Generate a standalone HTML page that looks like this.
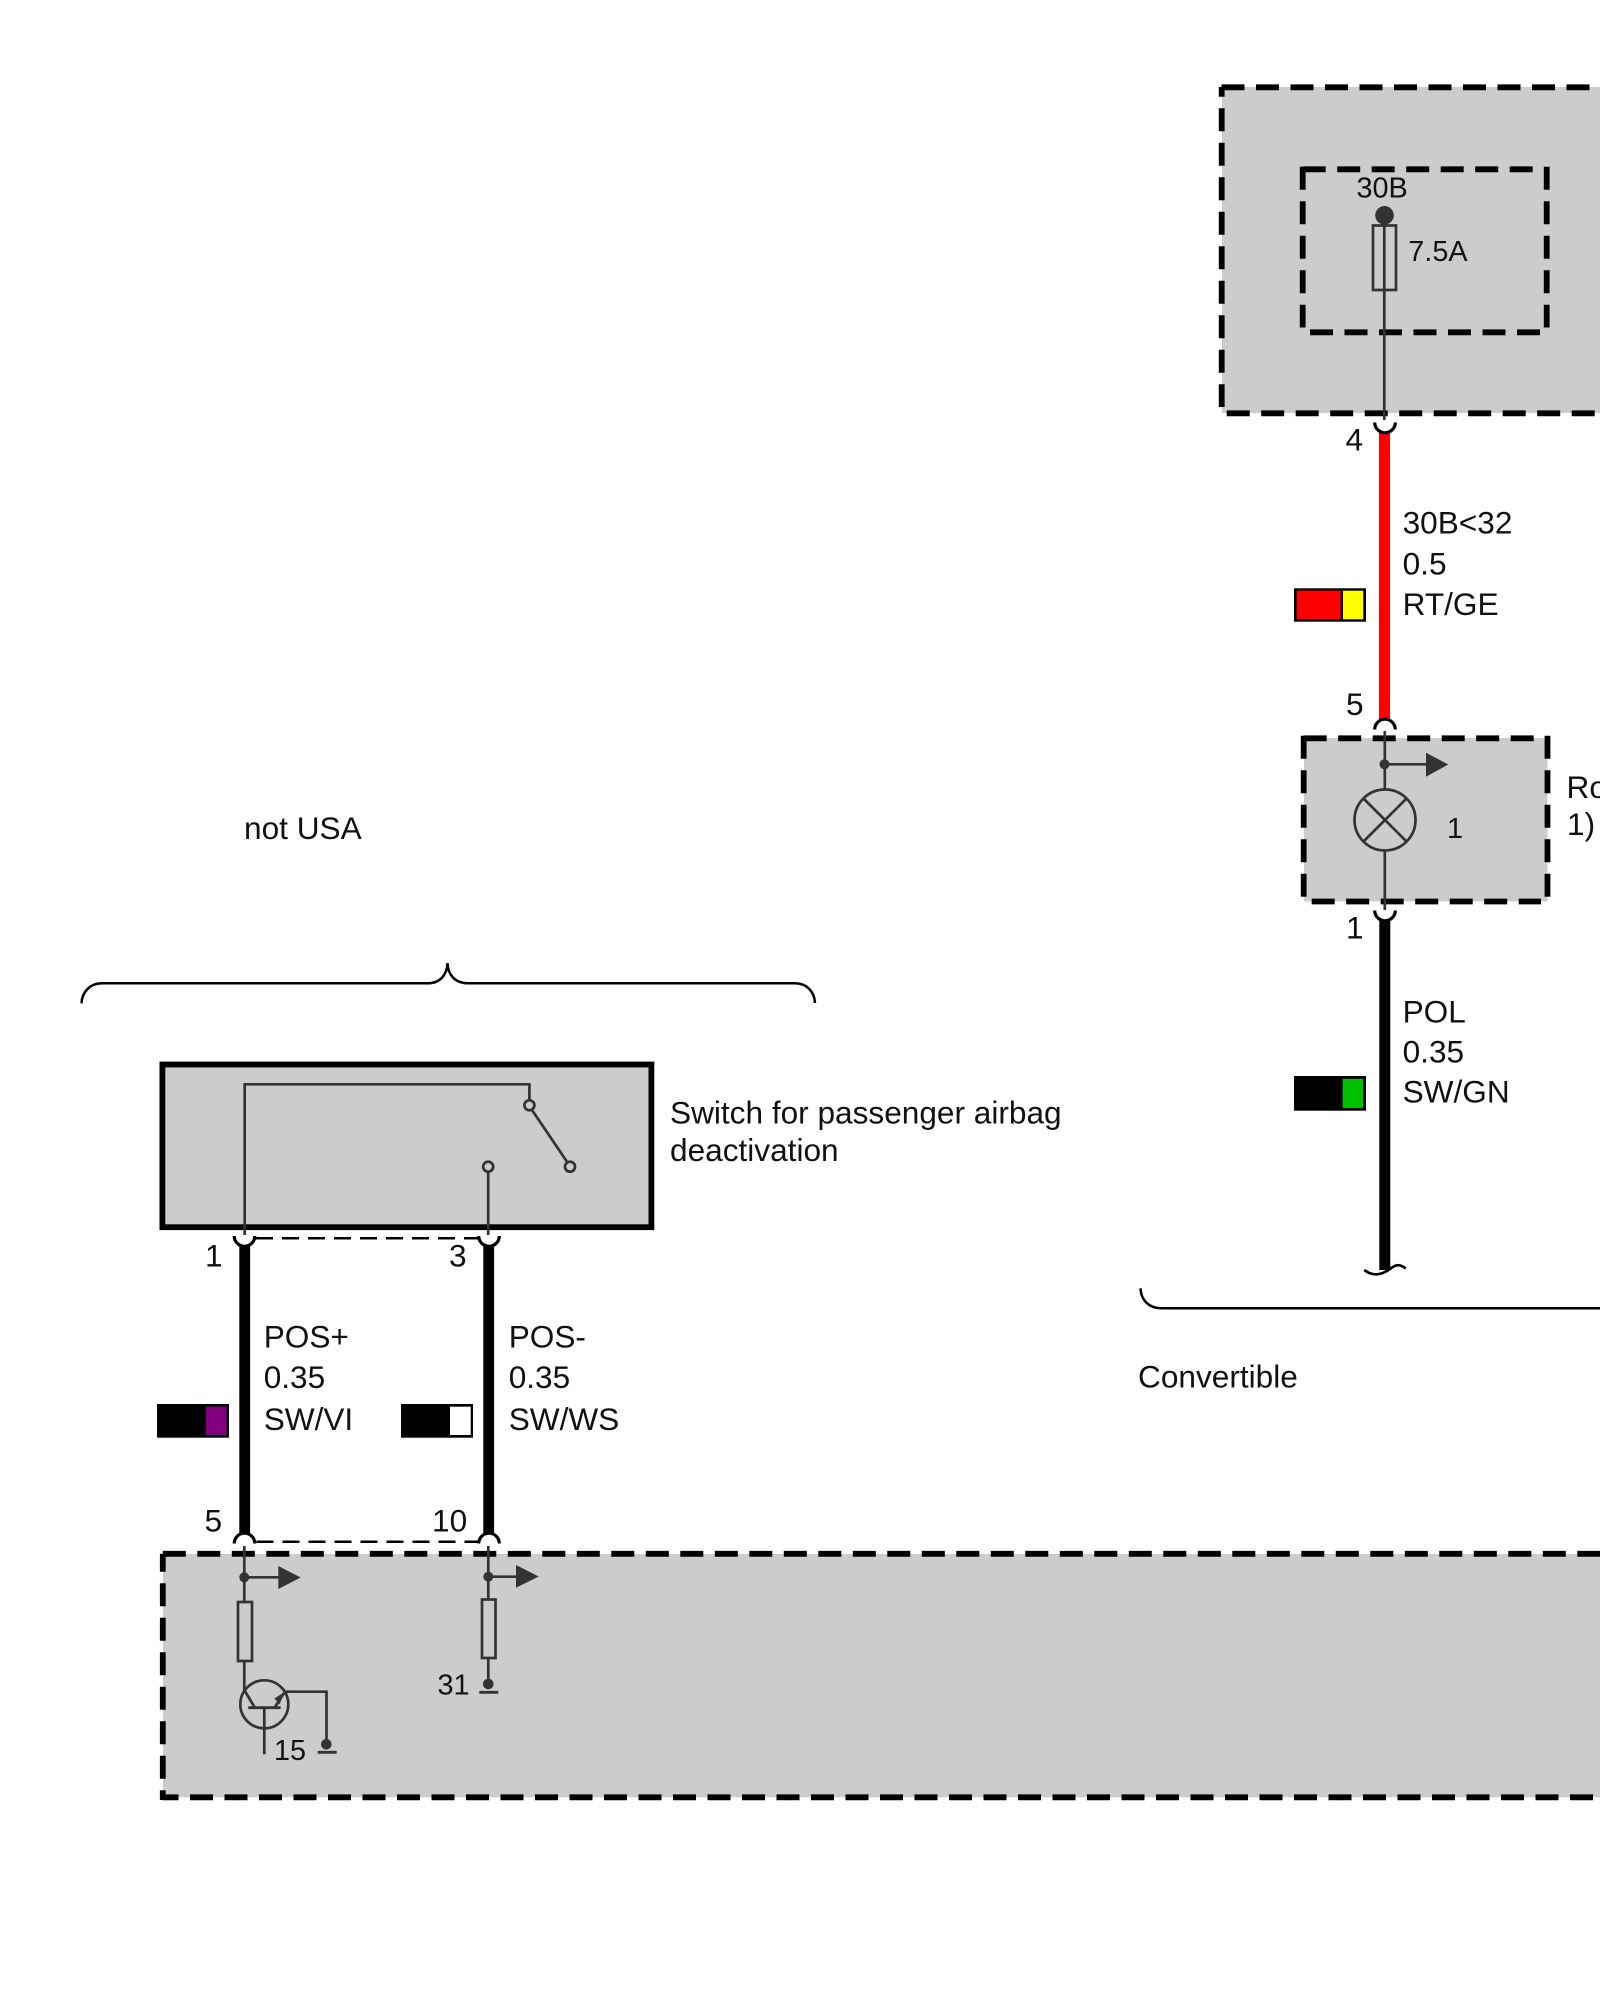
<!DOCTYPE html>
<html>
<head>
<meta charset="utf-8">
<style>
html,body{margin:0;padding:0;background:#fff;width:1600px;height:2000px;overflow:hidden}
svg{display:block}
text{font-family:"Liberation Sans",sans-serif;font-size:31.6px;fill:#111}
.s{font-size:28.8px}
.d{stroke:#000;stroke-width:5.8;stroke-dasharray:23 11.5;fill:none}
.w{stroke:#333;stroke-width:2.7;fill:none}
.c{stroke:#000;stroke-width:3.2;fill:none}
.f{fill:#333;stroke:none}
</style>
</head>
<body>
<svg width="1600" height="2000" viewBox="0 0 1600 2000" xmlns="http://www.w3.org/2000/svg">
<rect width="1600" height="2000" fill="#fff"/>

<!-- top right outer box -->
<rect x="1222" y="87" width="378" height="326" fill="#ccc"/>
<line class="d" x1="1221.5" y1="87.3" x2="1600" y2="87.3"/>
<line class="d" x1="1221.7" y1="87" x2="1221.7" y2="407" stroke-dashoffset="13.2"/>
<line class="d" x1="1226.7" y1="413.3" x2="1600" y2="413.3"/>
<!-- inner box -->
<line class="d" x1="1302.7" y1="169.3" x2="1535" y2="169.3"/>
<line class="d" x1="1302.7" y1="166.7" x2="1302.7" y2="327.5"/>
<line class="d" x1="1546.7" y1="166.7" x2="1546.7" y2="327.5"/>
<line class="d" x1="1310" y1="332.3" x2="1540" y2="332.3"/>
<circle class="f" cx="1384.5" cy="215.3" r="9.3"/>
<rect class="w" x="1373" y="225.5" width="23" height="64.5"/>
<line class="w" x1="1384.3" y1="224" x2="1384.3" y2="420"/>
<text x="1356.5" y="197.7" class="s">30B</text>
<text x="1408.3" y="261" class="s">7.5A</text>

<!-- red wire -->
<rect x="1379" y="432" width="11" height="288" fill="#f00"/>
<path class="c" d="M1374.7,422.5 A10.3,10.3 0 0 0 1395.3,422.5"/>
<path class="c" d="M1374.7,729.5 A10.3,10.3 0 0 1 1395.3,729.5"/>
<text x="1345.5" y="450.7">4</text>
<text x="1346" y="715">5</text>
<text x="1402.6" y="533.3">30B&lt;32</text>
<text x="1402.6" y="574.7">0.5</text>
<text x="1402.6" y="615">RT/GE</text>
<rect x="1294" y="588.3" width="72" height="33.4" fill="#000"/>
<rect x="1296.7" y="590.7" width="44" height="28.6" fill="#f00"/>
<rect x="1343" y="590.7" width="20.3" height="28.6" fill="#ff0"/>

<!-- lamp box -->
<rect x="1304" y="738" width="243.5" height="163.5" fill="#ccc"/>
<line class="d" x1="1303.7" y1="738.3" x2="1535" y2="738.3"/>
<line class="d" x1="1303.7" y1="735.7" x2="1303.7" y2="897"/>
<line class="d" x1="1547.5" y1="735.7" x2="1547.5" y2="897"/>
<line class="d" x1="1311.7" y1="901.5" x2="1541" y2="901.5"/>
<line class="w" x1="1384.8" y1="731" x2="1384.8" y2="790"/>
<line class="w" x1="1384.8" y1="850" x2="1384.8" y2="910"/>
<circle class="f" cx="1384.5" cy="764.3" r="5"/>
<line class="w" x1="1384.5" y1="764.3" x2="1428" y2="764.3"/>
<polygon class="f" points="1426,752.7 1448.3,764.5 1426,776.7"/>
<circle class="w" cx="1385" cy="820" r="30.5"/>
<line class="w" x1="1363.5" y1="798.5" x2="1406.5" y2="841.5"/>
<line class="w" x1="1406.5" y1="798.5" x2="1363.5" y2="841.5"/>
<text x="1447" y="838" class="s">1</text>
<text x="1566.5" y="798">Roof</text>
<text x="1567" y="835">1)</text>

<!-- black wire right -->
<path class="c" d="M1374.7,910.5 A10.3,10.3 0 0 0 1395.3,910.5"/>
<rect x="1379.3" y="920" width="11" height="350" fill="#000"/>
<path d="M1364.3,1270 C1372,1276 1380,1276 1390,1269 C1396,1264 1400,1264 1405.7,1268.5" fill="none" stroke="#000" stroke-width="2.7"/>
<text x="1346" y="938.3">1</text>
<text x="1402.6" y="1022.7">POL</text>
<text x="1402.6" y="1062.3">0.35</text>
<text x="1402.6" y="1102.5">SW/GN</text>
<rect x="1294" y="1076" width="72" height="34.7" fill="#000"/>
<rect x="1342.7" y="1079" width="20.6" height="29" fill="#00c000"/>

<!-- Convertible brace -->
<path d="M1140.5,1288.3 C1141,1300 1149,1308.3 1161,1308.3 L1600,1308.3" fill="none" stroke="#000" stroke-width="2.5"/>
<text x="1138" y="1387.5">Convertible</text>

<!-- not USA -->
<text x="244" y="839">not USA</text>
<path d="M81.5,1003.3 C82,992 90,983.3 102,983.3 L428,983.3 C440,983.3 447,975 447.5,963 C448,975 455,983.3 468,983.3 L795,983.3 C807,983.3 814.5,992 815,1003" fill="none" stroke="#000" stroke-width="2.5"/>

<!-- switch -->
<rect x="162.4" y="1064.5" width="489" height="162.7" fill="#ccc" stroke="#000" stroke-width="5.8"/>
<path class="w" d="M244.7,1235 L244.7,1084.3 L529.4,1084.3 L529.4,1100"/>
<circle class="w" cx="529.4" cy="1105.3" r="5"/>
<line class="w" x1="532" y1="1110" x2="567.5" y2="1162.5"/>
<circle class="w" cx="570" cy="1166.7" r="5"/>
<circle class="w" cx="488.2" cy="1166.7" r="5"/>
<line class="w" x1="488.2" y1="1172" x2="488.2" y2="1235"/>
<text x="670" y="1123.3">Switch for passenger airbag</text>
<text x="670" y="1161">deactivation</text>

<!-- left wires -->
<line x1="256" y1="1238.3" x2="478.3" y2="1238.3" stroke="#000" stroke-width="2.5" stroke-dasharray="17 9"/>
<line x1="256.5" y1="1541.7" x2="478.3" y2="1541.7" stroke="#000" stroke-width="2.5" stroke-dasharray="17 9"/>
<path class="c" d="M234.2,1236 A10.3,10.3 0 0 0 254.8,1236"/>
<path class="c" d="M478.7,1236 A10.3,10.3 0 0 0 499.3,1236"/>
<path class="c" d="M234.2,1543.5 A10.3,10.3 0 0 1 254.8,1543.5"/>
<path class="c" d="M478.7,1543.5 A10.3,10.3 0 0 1 499.3,1543.5"/>
<rect x="239.3" y="1245" width="10.8" height="289" fill="#000"/>
<rect x="483.3" y="1245" width="10.8" height="289" fill="#000"/>
<text x="205" y="1266.7">1</text>
<text x="449" y="1266.7">3</text>
<text x="204.5" y="1531.7">5</text>
<text x="432" y="1531.7">10</text>
<text x="263.7" y="1347.7">POS+</text>
<text x="263.7" y="1388">0.35</text>
<text x="263.7" y="1430">SW/VI</text>
<text x="508.7" y="1347.7">POS-</text>
<text x="508.7" y="1388">0.35</text>
<text x="508.7" y="1430">SW/WS</text>
<rect x="157" y="1404" width="72" height="33.7" fill="#000"/>
<rect x="205.7" y="1406.7" width="21" height="28.3" fill="#800080"/>
<rect x="401" y="1404" width="72" height="33.7" fill="#000"/>
<rect x="450" y="1406.7" width="20.7" height="28.3" fill="#fff"/>

<!-- bottom box -->
<rect x="163" y="1554" width="1437" height="243.3" fill="#ccc"/>
<line class="d" x1="160" y1="1553.8" x2="1600" y2="1553.8" stroke-dashoffset="-2.8"/>
<line class="d" x1="162.8" y1="1553.8" x2="162.8" y2="1800" stroke-dashoffset="5"/>
<line class="d" x1="162.8" y1="1797.3" x2="1600" y2="1797.3" stroke-dashoffset="7.3"/>

<!-- left inner circuit -->
<line class="w" x1="244.3" y1="1546" x2="244.3" y2="1601"/>
<circle class="f" cx="244.3" cy="1577.3" r="5"/>
<line class="w" x1="244.3" y1="1577.3" x2="280" y2="1577.3"/>
<polygon class="f" points="278.3,1566 300.7,1577.5 278.3,1589"/>
<rect class="w" x="238" y="1602" width="14" height="59"/>
<line class="w" x1="244.3" y1="1661" x2="244.3" y2="1690"/>
<circle class="w" cx="264.3" cy="1704.3" r="24"/>
<line class="w" x1="244.3" y1="1690" x2="255" y2="1708"/>
<line x1="248.3" y1="1707.7" x2="280.7" y2="1707.7" stroke="#333" stroke-width="2.8"/>
<line class="w" x1="264.3" y1="1707.7" x2="264.3" y2="1754.3"/>
<line class="w" x1="275" y1="1707" x2="284" y2="1693"/>
<polygon class="f" points="284.5,1692 274.5,1698.5 279.5,1704.5"/>
<path class="w" d="M284,1691.7 L326.5,1691.7 L326.5,1744"/>
<circle class="f" cx="326.3" cy="1744.3" r="5.3"/>
<line x1="317.7" y1="1752.3" x2="336.7" y2="1752.3" stroke="#333" stroke-width="2.8"/>
<text x="274" y="1760" class="s">15</text>

<!-- right inner circuit -->
<line class="w" x1="488.3" y1="1546" x2="488.3" y2="1599"/>
<circle class="f" cx="488.3" cy="1576.7" r="5"/>
<line class="w" x1="488.3" y1="1576.7" x2="518" y2="1576.7"/>
<polygon class="f" points="516,1565 538.7,1576.5 516,1587.7"/>
<rect class="w" x="482" y="1599.5" width="13.5" height="58.5"/>
<line class="w" x1="488.3" y1="1659" x2="488.3" y2="1684"/>
<circle class="f" cx="488.3" cy="1684" r="5.3"/>
<line x1="479.3" y1="1692.3" x2="498.3" y2="1692.3" stroke="#333" stroke-width="2.8"/>
<text x="437.5" y="1694.3" class="s">31</text>
</svg>
</body>
</html>
